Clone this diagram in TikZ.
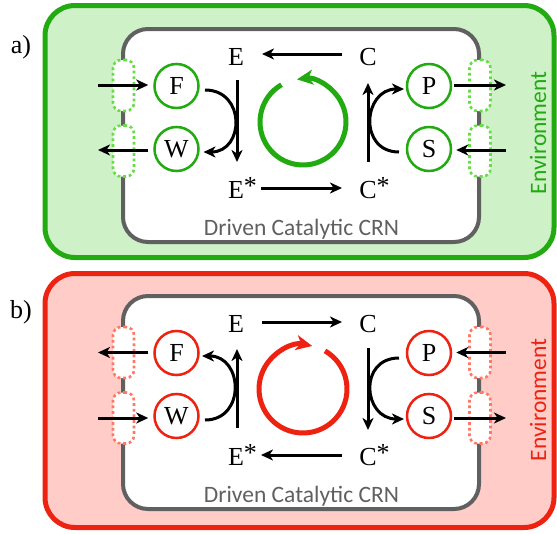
\documentclass[tikz,border=0pt]{standalone}
\usepackage{fontspec}
\setmainfont{Liberation Serif}
\newfontfamily\carlitofont{Carlito}
\usetikzlibrary{arrows.meta,calc}
\definecolor{gstroke}{RGB}{34,170,17}
\definecolor{gfill}{RGB}{206,241,200}
\definecolor{gdot}{RGB}{102,221,68}
\definecolor{rstroke}{RGB}{238,34,17}
\definecolor{rfill}{RGB}{255,204,200}
\definecolor{rdot}{RGB}{255,119,102}
\definecolor{cellgray}{RGB}{96,96,96}
\newcommand{\starmark}{\rlap{\raisebox{4pt}{*}}}
\tikzset{
  envbox/.style={line width=5pt, rounded corners=30pt},
  cellbox/.style={draw=cellgray, fill=white, line width=4pt, rounded corners=25pt},
  port/.style={draw, line width=2.6pt, dash pattern=on 2.8pt off 2.8pt, fill=white, rounded corners=8pt, minimum width=21pt, minimum height=51pt, inner sep=0pt},
  species/.style={circle, draw, line width=2.5pt, fill=white, minimum size=44pt, inner sep=0pt, font=\fontsize{26}{30}\selectfont},
  lbl/.style={anchor=base, inner sep=0pt, font=\fontsize{26}{30}\selectfont},
  sanslbl/.style={inner sep=0pt, font=\carlitofont\fontsize{23.5}{27}\selectfont},
  arr/.style={line width=3pt, -{Stealth[length=12pt,width=11pt,inset=3.5pt]}},
  cyc/.style={line width=5pt, -{Stealth[length=16pt,width=15pt,inset=4.5pt]}},
}
\begin{document}
\begin{tikzpicture}[x=1pt,y=-1pt]
\useasboundingbox (0,0) rectangle (557,533);

% ===================== panel a =====================
\draw[envbox, draw=gstroke, fill=gfill] (45,5.5) rectangle (554,257.5);
\draw[cellbox] (123,29) rectangle (479,242);
\node[port, draw=gdot] (aFp) at (123.5,85.5) {};
\node[port, draw=gdot] (aWp) at (123.5,151) {};
\node[port, draw=gdot] (aPp) at (480,85.5) {};
\node[port, draw=gdot] (aSp) at (480,151) {};
\node[species, draw=gstroke] (aF) at (176.5,86) {F};
\node[species, draw=gstroke] (aW) at (176.5,149) {W};
\node[species, draw=gstroke] (aP) at (429,86) {P};
\node[species, draw=gstroke] (aS) at (429,149) {S};
\node[lbl] (aE) at (236,65) {E};
\node[lbl] (aC) at (368,65) {C};
\node[lbl] (aEs) at (236,198) {E\starmark};
\node[lbl] (aCs) at (368,198) {C\starmark};
\draw[arr] ($(aC.base)+(-26,-11)$) -- ($(aE.base)+(26,-11)$);
\draw[arr] ($(aEs.base)+(25,-10)$) -- ($(aCs.base)+(-26,-10)$);
\draw[arr] ($(aE.base)+(1,15)$) -- ($(aEs.base)+(1,-36)$);
\draw[arr] ($(aCs.base)+(0,-36)$) -- ($(aC.base)+(0,18)$);
\draw[arr] ($(aF)+(28.5,4)$) .. controls +(41,0) and +(41,0) .. ($(aW)+(27,3)$);
\draw[arr] ($(aS)+(-30,3)$) .. controls +(-41,0) and +(-41,0) .. ($(aP)+(-25,3)$);
\coordinate (aFin) at (98,85);
\coordinate (aWout) at (98,150);
\coordinate (aPout) at (506,85);
\coordinate (aSin) at (506,150);
\draw[arr] (aFin) -- ($(aF.west)+(-5,-1)$);
\draw[arr] ($(aW.west)+(-5,1)$) -- (aWout);
\draw[arr] ($(aP.east)+(2,-1)$) -- (aPout);
\draw[arr] (aSin) -- ($(aS.east)+(4,1)$);
\coordinate (aO) at (303,122);
\draw[cyc, gstroke] (aO) ++(240:43) arc[start angle=240, end angle=-98, radius=43];
\node[lbl] (alab) at (21,53) {a)};
\node[sanslbl, text=cellgray, anchor=base] (acrn) at (301.5,235) {Driven Catalytic CRN};
\node[sanslbl, text=gstroke, rotate=90] (aenv) at (538,133) {Environment};

% ===================== panel b =====================
\draw[envbox, draw=rstroke, fill=rfill] (45,273.5) rectangle (554,527.5);
\draw[cellbox] (123,296) rectangle (479,509);
\node[port, draw=rdot] (bFp) at (123.5,352.5) {};
\node[port, draw=rdot] (bWp) at (123.5,418) {};
\node[port, draw=rdot] (bPp) at (480,352.5) {};
\node[port, draw=rdot] (bSp) at (480,418) {};
\node[species, draw=rstroke] (bF) at (176.5,353) {F};
\node[species, draw=rstroke] (bW) at (176.5,416) {W};
\node[species, draw=rstroke] (bP) at (429,353) {P};
\node[species, draw=rstroke] (bS) at (429,416) {S};
\node[lbl] (bE) at (236,332) {E};
\node[lbl] (bC) at (368,332) {C};
\node[lbl] (bEs) at (236,465) {E\starmark};
\node[lbl] (bCs) at (368,465) {C\starmark};
\draw[arr] ($(bE.base)+(26,-10)$) -- ($(bC.base)+(-26,-10)$);
\draw[arr] ($(bCs.base)+(-26,-10)$) -- ($(bEs.base)+(25,-10)$);
\draw[arr] ($(bEs.base)+(1,-37)$) -- ($(bE.base)+(1,17)$);
\draw[arr] ($(bC.base)+(0,16)$) -- ($(bCs.base)+(0,-35)$);
\draw[arr] ($(bW)+(28.5,4)$) .. controls +(41,0) and +(41,0) .. ($(bF)+(25.5,3)$);
\draw[arr] ($(bP)+(-30,5)$) .. controls +(-41,0) and +(-41,0) .. ($(bS)+(-25,3)$);
\coordinate (bFout) at (98,352.5);
\coordinate (bWin) at (98,418);
\coordinate (bPin) at (506,352.5);
\coordinate (bSout) at (506,418);
\draw[arr] ($(bF.west)+(-5,-0.5)$) -- (bFout);
\draw[arr] (bWin) -- ($(bW.west)+(-5,2)$);
\draw[arr] (bPin) -- ($(bP.east)+(4,-0.5)$);
\draw[arr] ($(bS.east)+(2,2)$) -- (bSout);
\coordinate (bO) at (303,389);
\draw[cyc, rstroke] (bO) ++(-60:44) arc[start angle=-60, end angle=282, radius=44];
\node[lbl] (blab) at (21,318) {b)};
\node[sanslbl, text=cellgray, anchor=base] (bcrn) at (301.5,502) {Driven Catalytic CRN};
\node[sanslbl, text=rstroke, rotate=90] (benv) at (538,400) {Environment};
\end{tikzpicture}
\end{document}
